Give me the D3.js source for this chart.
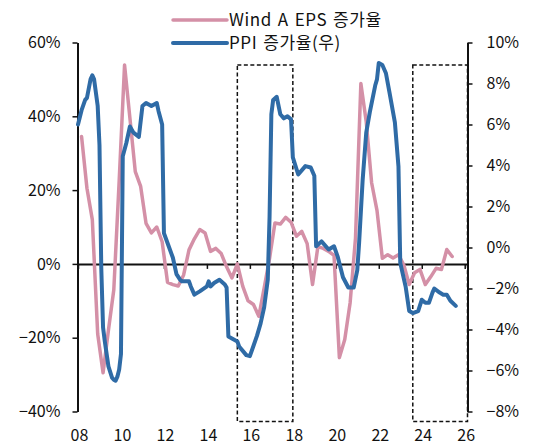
<!DOCTYPE html>
<html>
<head>
<meta charset="utf-8">
<script src="https://cdn.jsdelivr.net/npm/d3@7"></script>
<style>
  html, body { margin: 0; padding: 0; background: #fff; }
  svg { display: block; }
  text { font-family: "Noto Sans CJK KR", "Noto Sans", sans-serif; fill: #111; }
</style>
</head>
<body>
<svg id="chart" width="536" height="448"></svg>
<script>
// Wind All-A EPS growth (quarterly, %), left axis
const epsQuarters = [
  "2008-03","2008-06","2008-09","2008-12","2009-03","2009-06","2009-09","2009-12",
  "2010-03","2010-06","2010-09","2010-12","2011-03","2011-06","2011-09","2011-12",
  "2012-03","2012-06","2012-09","2012-12","2013-03","2013-06","2013-09","2013-12",
  "2014-03","2014-06","2014-09","2014-12","2015-03","2015-06","2015-09","2015-12",
  "2016-03","2016-06","2016-09","2016-12","2017-03","2017-06","2017-09","2017-12",
  "2018-03","2018-06","2018-09","2018-12","2019-03","2019-06","2019-09","2019-12",
  "2020-03","2020-06","2020-09","2020-12","2021-03","2021-06","2021-09","2021-12",
  "2022-03","2022-06","2022-09","2022-12","2023-03","2023-06","2023-09","2023-12",
  "2024-03","2024-06","2024-09","2024-12","2025-03","2025-06"
];
const epsGrowth = [
  34.5, 20.5, 12.0, -19.0, -29.5, -18.0, -7.0, 22.5,
  53.9, 39.5, 25.0, 21.0, 11.0, 8.4, 10.0, 6.0,
  -5.0, -5.6, -6.0, -3.0, 3.8, 6.8, 9.3, 8.4,
  3.4, 4.2, 2.8, -0.8, -3.8, 0.0, -6.0, -10.0,
  -11.0, -14.2, -6.5, 1.5, 11.1, 10.8, 12.6, 11.3,
  7.5, 8.8, 5.5, -5.6, 4.7, 4.2, 3.4, 2.3,
  -25.4, -20.5, -10.5, 7.0, 48.9, 38.5, 22.0, 14.5,
  1.5, 2.5, 1.6, 2.5, -0.3, -5.6, -2.4, -1.5,
  -5.6, -3.5, -1.2, -1.5, 3.9, 2.0
];

// PPI year-on-year growth (monthly, %), right axis
const ppiMonths = [
  "2008-01","2008-03","2008-05","2008-06","2008-08","2008-09","2008-10","2008-12",
  "2009-01","2009-02","2009-03","2009-04","2009-06","2009-08","2009-09","2009-10",
  "2009-11","2009-12","2010-01","2010-02","2010-04","2010-06","2010-08","2010-11",
  "2011-01","2011-03","2011-06","2011-09","2011-10","2011-12","2012-01","2012-03",
  "2012-06","2012-08","2012-10","2012-11","2013-03","2013-04","2013-06","2013-09",
  "2014-01","2014-02","2014-03","2014-05","2014-08","2014-11","2014-12","2015-01",
  "2015-06","2015-07","2015-11","2016-01","2016-05","2016-07","2016-09","2016-11",
  "2016-12","2017-01","2017-02","2017-04","2017-06","2017-08","2017-10","2017-12",
  "2018-01","2018-04","2018-08","2018-11","2019-01","2019-02","2019-05","2019-09",
  "2019-12","2020-02","2020-05","2020-08","2020-11","2021-01","2021-02","2021-04",
  "2021-06","2021-08","2021-11","2021-12","2022-01","2022-03","2022-05","2022-07",
  "2022-10","2022-12","2023-01","2023-04","2023-06","2023-08","2023-11","2024-01",
  "2024-03","2024-05","2024-07","2024-08","2024-11","2025-01","2025-03","2025-05",
  "2025-08"
];
const ppiGrowth = [
  6.0, 6.7, 7.2, 7.3, 8.2, 8.4, 8.2, 6.9,
  5.0, -1.0, -3.9, -4.6, -5.8, -6.35, -6.45, -6.5,
  -6.3, -5.95, -5.2, 4.45, 5.1, 5.9, 5.6, 5.4,
  6.9, 7.05, 6.9, 7.05, 6.65, 6.0, 0.7, 0.22,
  -0.5, -1.3, -1.57, -1.65, -1.65, -1.9, -2.3, -2.14,
  -1.9, -1.65, -1.9, -1.73, -1.57, -1.8, -1.95, -4.34,
  -4.58, -4.83, -5.25, -5.3, -4.3, -3.7, -2.9, -1.57,
  1.5, 6.5, 7.2, 7.35, 6.5, 6.3, 6.4, 6.25,
  4.4, 3.56, 3.97, 3.9, 3.5, 0.06, 0.3, -0.1,
  0.06, -0.43, -1.45, -1.95, -1.95, -1.1, 0.2, 3.3,
  5.6, 6.6, 7.9, 8.2, 9.0, 8.9, 8.5, 7.55,
  6.1, 3.95, -0.75, -1.9, -3.1, -3.2, -3.1, -2.55,
  -2.7, -2.7, -2.2, -2.0, -2.2, -2.3, -2.3, -2.6,
  -2.85
];

// Axis tick values
const leftTicks = [-40, -20, 0, 20, 40, 60];
const rightTicks = [-8, -6, -4, -2, 0, 2, 4, 6, 8, 10];
const yearTicks = [2008, 2010, 2012, 2014, 2016, 2018, 2020, 2022, 2024, 2026];
const yearLabels = ["08", "10", "12", "14", "16", "18", "20", "22", "24", "26"];

// Highlighted periods (dashed frames)
const frameStart = ["2015-06", "2023-08"];
const frameEnd = ["2018-01", "2026-03"];

const seriesNames = ["Wind A EPS 증가율", "PPI 증가율(우)"];
const colors = { eps: "#d490a7", ppi: "#2f6ba6" };

const toYear = s => { const [y, m] = s.split("-").map(Number); return y + (m - 1) / 12; };
const pct = d => (d < 0 ? "\u2212" : "") + Math.abs(d) + "%";

const svg = d3.select("#chart");
const plot = { left: 78, right: 467.5, top: 42.5, bottom: 411.5 };

const x = d3.scaleLinear().domain([2008, 2026.13]).range([plot.left, plot.right]);
const yL = d3.scaleLinear().domain([-40, 60]).range([plot.bottom, plot.top]);
const yR = d3.scaleLinear().domain([-8, 10]).range([plot.bottom, plot.top]);

const eps = epsQuarters.map((q, i) => ({ t: toYear(q), v: epsGrowth[i] }));
const ppi = ppiMonths.map((m, i) => ({ t: toYear(m), v: ppiGrowth[i] }));

// Dashed frames
frameStart.forEach((s, i) => {
  const x0 = x(toYear(s));
  const x1 = Math.min(x(toYear(frameEnd[i])), plot.right);
  svg.append("rect")
    .attr("x", x0).attr("y", 65)
    .attr("width", x1 - x0).attr("height", 421.5 - 65)
    .attr("fill", "none").attr("stroke", "#111")
    .attr("stroke-width", 1.5).attr("stroke-dasharray", "4,2.5");
});

// Left axis
const axL = svg.append("g").attr("transform", `translate(${plot.left - 0.5},0)`)
  .call(d3.axisLeft(yL).tickValues(leftTicks).tickSize(5).tickSizeOuter(0).tickPadding(12).tickFormat(pct));
// Right axis
const axR = svg.append("g").attr("transform", `translate(${plot.right},0)`)
  .call(d3.axisRight(yR).tickValues(rightTicks).tickSize(5).tickSizeOuter(0).tickPadding(14).tickFormat(pct));
// Category axis along the zero line of the left scale
const axX = svg.append("g").attr("transform", `translate(0,${yL(0)})`)
  .call(d3.axisBottom(x).tickValues(yearTicks).tickSize(5).tickSizeOuter(0).tickFormat(""));

[axL, axR, axX].forEach(g => {
  g.selectAll(".domain").attr("stroke", "#111").attr("stroke-width", 2);
  g.selectAll(".tick line").attr("stroke", "#111").attr("stroke-width", 1.5);
  g.selectAll(".tick text").attr("font-size", 16).attr("fill", "#111")
    .attr("font-family", "\"Noto Sans CJK KR\", sans-serif");
});

// Year labels
svg.append("g").selectAll("text").data(yearTicks).join("text")
  .attr("x", d => x(d) + 1.5).attr("y", 435)
  .attr("dy", "0.35em").attr("text-anchor", "middle")
  .attr("font-size", 16)
  .text((d, i) => yearLabels[i]);

// Series lines
const lineL = d3.line().x(d => x(d.t)).y(d => yL(d.v));
const lineR = d3.line().x(d => x(d.t)).y(d => yR(d.v));

svg.append("path").datum(eps).attr("d", lineL)
  .attr("fill", "none").attr("stroke", colors.eps).attr("stroke-width", 3.5)
  .attr("stroke-linejoin", "round").attr("stroke-linecap", "round");
svg.append("path").datum(ppi).attr("d", lineR)
  .attr("fill", "none").attr("stroke", colors.ppi).attr("stroke-width", 4)
  .attr("stroke-linejoin", "round").attr("stroke-linecap", "round");

// Legend
const legend = svg.append("g");
[{ name: seriesNames[0], color: colors.eps, w: 3.5, y: 20 },
 { name: seriesNames[1], color: colors.ppi, w: 4, y: 43 }].forEach(e => {
  legend.append("line").attr("x1", 173).attr("x2", 227).attr("y1", e.y).attr("y2", e.y)
    .attr("stroke", e.color).attr("stroke-width", e.w).attr("stroke-linecap", "round");
  legend.append("text").attr("x", 229).attr("y", e.y).attr("dy", "0.35em")
    .attr("font-size", 17).attr("letter-spacing", 0.6).attr("word-spacing", 1.5)
    .text(e.name);
});
</script>
</body>
</html>
